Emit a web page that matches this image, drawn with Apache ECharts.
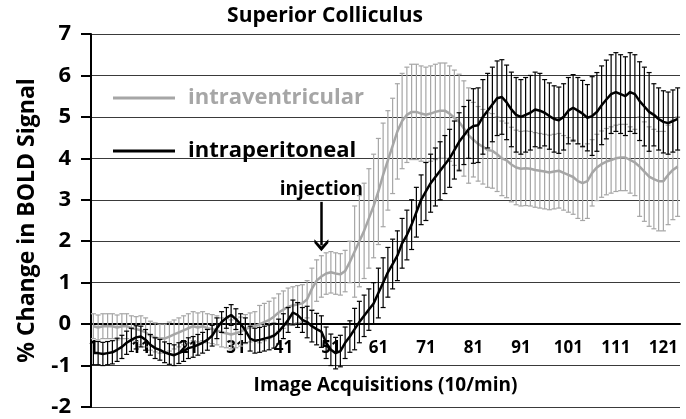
<!DOCTYPE html>
<html><head><meta charset="utf-8">
<script src="https://cdn.jsdelivr.net/npm/echarts@6/dist/echarts.min.js"></script>
<style>html,body{margin:0;padding:0;background:#fff}#c{width:686px;height:419px}</style>
</head><body><div id="c"></div>
<script>
var categories = [];
for (var k = 1; k <= 124; k++) categories.push(String(k));

var intraperitoneal = [
-0.70,-0.70,-0.72,-0.70,-0.68,-0.62,-0.55,-0.45,-0.38,-0.32,
-0.30,-0.38,-0.50,-0.58,-0.62,-0.68,-0.72,-0.75,-0.70,-0.65,
-0.58,-0.55,-0.50,-0.45,-0.38,-0.28,-0.10,0.05,0.15,0.22,
0.12,0.00,-0.15,-0.35,-0.40,-0.38,-0.35,-0.32,-0.28,-0.18,
-0.05,0.10,0.28,0.22,0.10,0.05,-0.05,-0.12,-0.18,-0.45,
-0.62,-0.70,-0.65,-0.45,-0.30,-0.12,0.05,0.20,0.35,0.50,
0.75,1.00,1.25,1.45,1.65,1.95,2.15,2.40,2.70,3.00,
3.20,3.40,3.55,3.70,3.85,4.00,4.20,4.40,4.55,4.70,
4.78,4.80,5.00,5.15,5.30,5.45,5.48,5.35,5.18,5.05,
5.00,5.05,5.10,5.18,5.15,5.10,5.02,4.95,4.92,5.00,
5.15,5.22,5.15,5.08,4.98,5.02,5.12,5.28,5.42,5.55,
5.60,5.55,5.50,5.60,5.55,5.38,5.25,5.12,5.05,4.95,
4.88,4.85,4.90,4.95];

var intraperitonealErr = [
0.28,0.28,0.28,0.28,0.28,0.28,0.28,0.28,0.28,0.28,
0.25,0.25,0.25,0.25,0.25,0.25,0.25,0.25,0.25,0.25,
0.25,0.25,0.25,0.25,0.25,0.25,0.25,0.25,0.25,0.25,
0.25,0.25,0.30,0.30,0.30,0.30,0.30,0.30,0.30,0.30,
0.30,0.30,0.30,0.30,0.30,0.38,0.38,0.38,0.38,0.38,
0.38,0.38,0.38,0.38,0.38,0.50,0.50,0.50,0.50,0.50,
0.60,0.60,0.60,0.60,0.60,0.60,0.60,0.60,0.60,0.60,
0.70,0.70,0.70,0.70,0.70,0.70,0.70,0.70,0.70,0.70,
0.90,0.90,0.90,0.90,0.90,0.90,0.90,0.90,0.90,0.90,
0.90,0.90,0.90,0.90,0.90,0.80,0.80,0.80,0.80,0.80,
0.80,0.80,0.80,0.80,0.80,0.95,0.95,0.95,0.95,0.95,
0.95,0.95,0.95,0.95,0.95,0.95,0.95,0.95,0.75,0.75,
0.75,0.75,0.75,0.75];

var intraventricular = [
-0.05,-0.08,-0.05,-0.05,-0.05,-0.08,-0.05,-0.05,-0.10,-0.12,
-0.15,-0.20,-0.28,-0.32,-0.35,-0.35,-0.30,-0.25,-0.20,-0.15,
-0.10,-0.05,-0.08,-0.05,-0.10,-0.12,-0.15,-0.20,-0.22,-0.25,
-0.22,-0.18,-0.12,-0.08,-0.05,0.00,0.05,0.10,0.18,0.28,
0.35,0.42,0.45,0.48,0.50,0.60,0.85,1.05,1.15,1.22,
1.25,1.22,1.20,1.28,1.50,1.75,2.00,2.25,2.55,2.85,
3.20,3.60,3.95,4.30,4.65,4.90,5.05,5.12,5.12,5.08,
5.05,5.08,5.12,5.15,5.15,5.08,4.98,4.88,4.72,4.55,
4.45,4.35,4.28,4.20,4.18,4.10,4.00,3.95,3.85,3.78,
3.75,3.76,3.75,3.72,3.70,3.68,3.66,3.68,3.70,3.65,
3.60,3.55,3.45,3.40,3.45,3.65,3.78,3.86,3.92,3.96,
4.00,4.02,4.02,3.96,3.90,3.80,3.68,3.56,3.50,3.45,
3.45,3.60,3.72,3.80];

var intraventricularErr = [
0.30,0.30,0.30,0.30,0.30,0.30,0.30,0.30,0.30,0.30,
0.35,0.35,0.35,0.35,0.35,0.35,0.35,0.35,0.35,0.35,
0.35,0.35,0.35,0.35,0.35,0.35,0.35,0.35,0.35,0.35,
0.35,0.35,0.35,0.35,0.35,0.45,0.45,0.45,0.45,0.45,
0.45,0.45,0.45,0.45,0.45,0.45,0.50,0.50,0.50,0.50,
0.50,0.50,0.50,0.50,0.50,1.10,1.10,1.15,1.20,1.25,
1.28,1.25,1.20,1.15,1.15,1.15,1.15,1.15,1.15,1.15,
1.15,1.15,1.15,1.15,1.15,1.15,1.15,1.15,1.15,1.15,
0.90,0.90,0.90,0.90,0.90,0.90,0.90,0.90,0.90,0.90,
0.90,0.90,0.90,0.90,0.90,0.90,0.90,0.90,0.90,0.90,
0.90,0.90,0.90,0.90,0.90,0.80,0.80,0.80,0.80,0.80,
0.80,0.80,0.80,0.80,0.80,1.20,1.20,1.20,1.20,1.20,
1.20,1.20,1.20,1.20];

var yTicks = {min: -2, max: 7, interval: 1};
var injection = {category: 48, from: 2.95, to: 1.9, text: 'injection'};

var GRAY = '#a6a6a6', BLACK = '#000000';
var FONT = 'Open Sans';
var GRID = {left: 91, right: 6, top: 34, bottom: 12};
var PLOT_H = 419 - GRID.top - GRID.bottom;
// distance of the value 0 above the bottom of the plot, from the y scale
var zeroOffset = -PLOT_H * (0 - yTicks.min) / (yTicks.max - yTicks.min);

function errData(vals, errs) {
  return vals.map(function (v, i) { return [i, v, errs[i]]; });
}
function errRender(color) {
  return function (params, api) {
    var x = api.value(0), m = api.value(1), e = api.value(2);
    var hi = api.coord([x, m + e]), lo = api.coord([x, m - e]);
    var hw = 2.5;
    var st = {stroke: color, lineWidth: 1.2};
    return {type: 'group', children: [
      {type: 'line', shape: {x1: hi[0], y1: hi[1], x2: lo[0], y2: lo[1]}, style: st},
      {type: 'line', shape: {x1: hi[0] - hw, y1: hi[1], x2: hi[0] + hw, y2: hi[1]}, style: st},
      {type: 'line', shape: {x1: lo[0] - hw, y1: lo[1], x2: lo[0] + hw, y2: lo[1]}, style: st}
    ]};
  };
}

var chart = echarts.init(document.getElementById('c'));
chart.setOption({
  animation: false,
  backgroundColor: '#fff',
  textStyle: {fontFamily: FONT},
  title: {text: 'Superior Colliculus', left: 320, textAlign: 'center', top: 1,
    textStyle: {fontFamily: FONT, fontWeight: 'bold', fontSize: 21, color: '#000'}},
  grid: {left: GRID.left, right: GRID.right, top: GRID.top, bottom: GRID.bottom,
    containLabel: false, outerBoundsMode: 'none'},
  legend: {
    orient: 'vertical', left: 108, top: 82, itemGap: 31, itemWidth: 62, itemHeight: 3,
    icon: 'rect',
    data: [
      {name: 'intraventricular', textStyle: {color: GRAY}},
      {name: 'intraperitoneal', textStyle: {color: BLACK}}
    ],
    textStyle: {fontFamily: FONT, fontWeight: 'bold', fontSize: 22, padding: [0,0,0,8]}
  },
  xAxis: [{
    type: 'category', data: categories, boundaryGap: true, position: 'bottom', offset: zeroOffset,
    name: 'Image Acquisitions (10/min)', nameLocation: 'middle', nameGap: 52,
    nameTextStyle: {fontFamily: FONT, fontWeight: 'bold', fontSize: 19, color: '#000'},
    axisLine: {onZero: false, lineStyle: {color: '#000', width: 2}},
    axisTick: {interval: 9, alignWithLabel: true, length: 7, lineStyle: {color: '#000', width: 1.5}},
    axisLabel: {interval: 9, margin: 16, fontFamily: FONT, fontWeight: 'bold', fontSize: 17, color: '#000'},
    splitLine: {show: false}
  }, {
    type: 'category', data: categories, boundaryGap: true, position: 'bottom', offset: zeroOffset,
    axisLine: {show: false, onZero: false},
    axisTick: {inside: true, interval: 9, alignWithLabel: true, length: 5, lineStyle: {color: '#000', width: 1.5}},
    axisLabel: {show: false},
    splitLine: {show: false}
  }],
  yAxis: {
    type: 'value', min: yTicks.min, max: yTicks.max, interval: yTicks.interval,
    name: '% Change in BOLD Signal', nameLocation: 'middle', nameGap: 52, nameRotate: 90,
    nameTextStyle: {fontFamily: FONT, fontWeight: 'bold', fontSize: 23, color: '#000'},
    axisLine: {show: true, onZero: false, lineStyle: {color: '#000', width: 2}},
    axisTick: {show: true, length: 10, lineStyle: {color: '#000', width: 2}},
    axisLabel: {margin: 20, fontFamily: FONT, fontWeight: 'bold', fontSize: 22, color: '#000'},
    splitLine: {show: true, lineStyle: {color: '#3a3a3a', width: 1.2}}
  },
  series: [
    {type: 'custom', name: 'ivErr', renderItem: errRender(GRAY), data: errData(intraventricular, intraventricularErr),
      encode: {x: 0, y: 1}, z: 2, silent: true},
    {type: 'line', name: 'intraventricular', data: intraventricular, symbol: 'none', z: 3,
      lineStyle: {color: GRAY, width: 2.5}, itemStyle: {color: GRAY},
      markLine: {
        silent: true, symbol: ['none', 'path://M5,0 L10,7 L10,10 L5,4 L0,10 L0,7 Z'], symbolSize: [14, 12],
        lineStyle: {color: '#000', width: 2.5, type: 'solid'},
        label: {show: true, position: 'start', formatter: injection.text, distance: 3,
          fontFamily: FONT, fontWeight: 'bold', fontSize: 19, color: '#000'},
        data: [[{coord: [injection.category, injection.from]}, {coord: [injection.category, injection.to]}]]
      }},
    {type: 'custom', name: 'ipErr', renderItem: errRender(BLACK), data: errData(intraperitoneal, intraperitonealErr),
      encode: {x: 0, y: 1}, z: 4, silent: true},
    {type: 'line', name: 'intraperitoneal', data: intraperitoneal, symbol: 'none', z: 5,
      lineStyle: {color: BLACK, width: 2.5}, itemStyle: {color: BLACK}}
  ]
});
</script></body></html>
